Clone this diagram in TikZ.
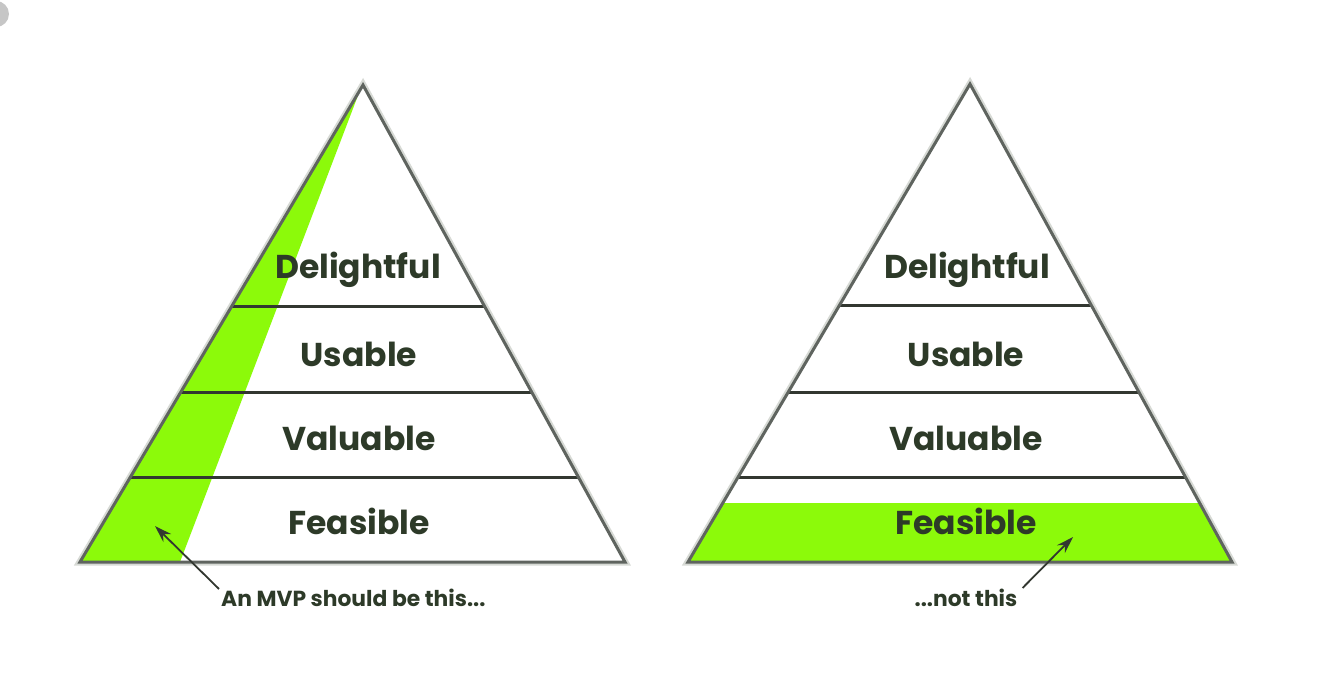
\documentclass[tikz,border=0pt]{standalone}
\usepackage{fontspec}
\setmainfont{Poppins}
\usetikzlibrary{calc,arrows.meta}
\definecolor{lime}{RGB}{140,250,10}
\definecolor{txt}{RGB}{45,58,40}
\definecolor{edge}{RGB}{95,100,95}
\definecolor{divl}{RGB}{50,55,48}
\definecolor{glow}{RGB}{215,218,213}
\tikzset{
  lab/.style={text=txt, font=\fontsize{33}{36}\selectfont\bfseries, inner sep=0pt, anchor=center},
  note/.style={text=txt, font=\fontsize{21.8}{24}\selectfont\bfseries, inner sep=0pt},
  outline/.style={draw=edge, line width=3pt, line join=miter},
  halo/.style={draw=glow, line width=7pt, line join=miter},
  divider/.style={draw=divl, line width=3pt},
  pointer/.style={draw=divl, line width=1.8pt, -{Stealth[length=17pt,width=11pt]}},
}
\begin{document}
\begin{tikzpicture}[x=1pt,y=-1pt]
\useasboundingbox (0,0) rectangle (1329,683);
% corner artifact
\fill[gray!45] (-4,14) circle (13);

% ---------- left pyramid ----------
\coordinate (A1) at (363,85);
\coordinate (B1) at (80,562);
\coordinate (C1) at (625,562);
\coordinate (G1) at (180,562);
\draw[halo] (A1) -- (B1) -- (C1) -- cycle;
\fill[white] (A1) -- (B1) -- (C1) -- cycle;
\fill[lime] ($(A1)!0.01!(B1)$) -- (B1) -- (G1) -- cycle;
\foreach \t in {0.4633,0.6436,0.8218}{
  \draw[divider] ($(A1)!\t!(B1)$) -- ($(A1)!\t!(C1)$);
}
\draw[outline] (A1) -- (B1) -- (C1) -- cycle;

\node[lab] (d1) at (358,270) {Delightful};
\node[lab] (u1) at (359,354) {Usable};
\node[lab] (v1) at (359,438) {Valuable};
\node[lab] (f1) at (359,521) {Feasible};

\node[note, anchor=west] (n1) at (221,598) {An MVP should be this...};
\coordinate (t1) at (155,526);
\draw[pointer] ($(n1.north west)+(-2,0)$) -- (t1);

% ---------- right pyramid ----------
\coordinate (A2) at (970,84);
\coordinate (B2) at (688,562);
\coordinate (C2) at (1232,562);
\draw[halo] (A2) -- (B2) -- (C2) -- cycle;
\fill[white] (A2) -- (B2) -- (C2) -- cycle;
\fill[lime] ($(A2)!0.8766!(B2)$) -- (B2) -- (C2) -- ($(A2)!0.8766!(C2)$) -- cycle;
\foreach \t in {0.4644,0.6444,0.8222}{
  \draw[divider] ($(A2)!\t!(B2)$) -- ($(A2)!\t!(C2)$);
}
\draw[outline] (A2) -- (B2) -- (C2) -- cycle;

\node[lab] (d2) at (967,270) {Delightful};
\node[lab] (u2) at (966,354) {Usable};
\node[lab] (v2) at (966,438) {Valuable};
\node[lab] (f2) at (966,521) {Feasible};

\node[note] (n2) at (966,598) {...not this};
\coordinate (t2) at (1073,537);
\draw[pointer] ($(n2.east)+(5,-10)$) -- (t2);
\end{tikzpicture}
\end{document}
